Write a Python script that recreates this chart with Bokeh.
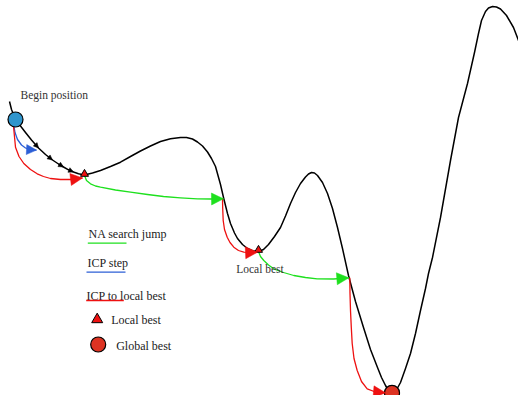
from bokeh.plotting import figure
from bokeh.models import Range1d, Arrow, NormalHead
from bokeh.core.properties import value
from bokeh.embed import file_html
from bokeh.resources import INLINE

# ---- data (screen-like coordinates) ----
curve_x = [9, 11, 15, 20, 25, 31, 38, 45, 52, 58, 63, 68, 73, 78, 84, 92, 100, 110, 120, 130,
           140, 150, 160, 170, 180, 186, 192, 197, 202, 207, 211, 215, 220, 223, 227, 230, 234,
           237, 242, 247, 252, 258, 263, 268, 274, 280, 285, 290, 295, 300, 305, 308, 311, 314,
           317, 322, 327, 332, 337, 342, 348, 355, 363, 370, 377, 381, 385, 388, 391, 394, 397,
           400, 405, 410, 415, 420, 425, 428, 432, 440, 450, 458, 467, 474, 478, 481, 485, 488,
           492, 496, 500, 506, 513, 518, 526]
curve_y = [101, 109, 119, 125.5, 132, 139.5, 147.5, 154, 159.5, 163.5, 166.5, 169.3, 171.5,
           173.2, 174.5, 172.5, 170, 166, 161.7, 156, 150.5, 145.5, 141, 138.3, 137, 137, 138.5,
           141.5, 145.5, 151.5, 158, 166, 184, 197, 213, 223, 232.5, 238, 244, 248, 250.3, 251,
           249, 244, 236, 227, 215.5, 203, 192, 183, 176.5, 173.5, 172, 172.5, 175, 182, 193,
           208, 227, 248, 275, 301, 327, 349, 367, 377, 385, 390, 392.5, 391, 387.5, 382, 368,
           353, 333, 310, 288, 273, 257, 217, 160, 117, 83, 52, 33, 20, 11, 7.5, 6, 6.5, 8.5,
           15, 27, 40, 63]

icp_step_x = [13.5, 14.5, 17, 21, 25, 30, 36]
icp_step_y = [126, 132, 139, 144.5, 147.5, 149.3, 149.6]

icp1_x = [13, 13.5, 15, 18.5, 23.3, 30, 36.7, 43, 50, 60, 70, 82]
icp1_y = [126, 131, 146.7, 156, 163, 169, 173.3, 176, 178, 179, 179, 177.5]

jump1_x = [84, 86, 90, 95, 100, 115, 130, 147, 163, 180, 197, 210, 223]
jump1_y = [175, 180, 183.3, 185.5, 186.7, 189.5, 191.7, 194, 196, 197.3, 198.3, 198.5, 198.3]

icp2_x = [222, 222.2, 222.7, 224, 226.7, 229.5, 233.3, 238, 243.3, 250, 257]
icp2_y = [198.3, 208, 220, 229, 236.7, 242, 246.7, 250, 251.7, 252, 251.7]

jump2_x = [258.3, 260, 263.3, 268, 273.3, 283, 293.3, 305, 316.7, 333, 348.3]
jump2_y = [251.7, 256, 260, 264.5, 268.3, 272, 275, 277, 278.3, 278.5, 277.3]

icp3_x = [349.3, 349.5, 350, 350.8, 351.7, 353.5, 356.7, 361, 366.7, 375, 385]
icp3_y = [277.3, 293, 310, 327, 343, 358, 370, 381, 388.3, 391.5, 392.3]

step_head_x = [39.5, 51, 61.5, 71.5]

begin_pt = (15, 119)
local_x = [84, 258]
local_y = [173.5, 249.5]
global_pt = (391.5, 392.3)

legend_labels = ["NA search jump", "ICP step", "ICP to local best", "Local best", "Global best"]

GREEN = "#1ee01e"
BLUE = "#2c5fd6"
RED = "#ee1111"
FONT = value("Liberation Serif")

p = figure(width=518, height=395, output_backend="svg", toolbar_location=None,
           x_range=Range1d(0, 518), y_range=Range1d(395, 0),
           x_axis_location=None, y_axis_location=None, min_border=0)
p.grid.visible = False
p.outline_line_color = None
p.background_fill_color = "white"

# main landscape curve
p.line(curve_x, curve_y, line_color="black", line_width=1.5, line_join="round")


def arrow_path(xs, ys, color, size=11):
    p.line(xs, ys, line_color=color, line_width=1.3, line_join="round")
    p.add_layout(Arrow(end=NormalHead(size=size, fill_color=color, line_color=color, line_width=0.5),
                       x_start=xs[-2], y_start=ys[-2], x_end=xs[-1], y_end=ys[-1],
                       line_alpha=0))


arrow_path(icp_step_x, icp_step_y, BLUE, 10)
arrow_path(icp1_x, icp1_y, RED, 12)
arrow_path(jump1_x, jump1_y, GREEN, 12)
arrow_path(icp2_x, icp2_y, RED, 12)
arrow_path(jump2_x, jump2_y, GREEN, 12)
arrow_path(icp3_x, icp3_y, RED, 12)

# small black heads along the ICP steps
for hx in step_head_x:
    i = min(range(len(curve_x)), key=lambda k: abs(curve_x[k] - hx))
    j = max(i - 1, 0)
    fx = curve_x[j] + (curve_x[i] - curve_x[j]) * 0.999
    fy = curve_y[j] + (curve_y[i] - curve_y[j]) * 0.999
    p.add_layout(Arrow(end=NormalHead(size=5, fill_color="black", line_color="black", line_width=0.5),
                       x_start=curve_x[j], y_start=curve_y[j], x_end=fx, y_end=fy, line_alpha=0))

# markers
p.scatter([begin_pt[0]], [begin_pt[1]], marker="circle", size=15, fill_color="#2f95cd",
          line_color="black", line_width=1.2)
p.scatter(local_x, local_y, marker="triangle", size=8, fill_color=RED,
          line_color="black", line_width=1)
p.scatter([global_pt[0]], [global_pt[1]], marker="circle", size=15, fill_color="#dd3322",
          line_color="black", line_width=1.2)

# labels
p.text([20], [94.5], text=["Begin position"], text_font=FONT, text_font_size="11.5px",
       text_color="#333333", text_align="left", text_baseline="middle")
p.text([259.5], [268], text=["Local best"], text_font=FONT, text_font_size="11.5px",
       text_color="#333333", text_align="center", text_baseline="middle")

# legend (hand-made, like the reference)
p.text([88, 87, 86], [233.5, 262.5, 295.5], text=legend_labels[:3], text_font=FONT,
       text_font_size="12px", text_color="#222222", text_align="left", text_baseline="middle")
p.segment([87.3, 86, 85.7], [242.7, 271.7, 300], [126, 125, 123.3], [242.7, 271.7, 300],
          line_color=[GREEN, BLUE, RED], line_width=1.3)
p.scatter([96.7], [319], marker="triangle", size=11, fill_color=RED, line_color="black", line_width=1)
p.scatter([97.7], [344], marker="circle", size=15, fill_color="#dd3322", line_color="black",
          line_width=1.2)
p.text([110.7, 115.7], [319.5, 345], text=legend_labels[3:], text_font=FONT,
       text_font_size="12px", text_color="#222222", text_align="left", text_baseline="middle")

open("out.html", "w").write(file_html(p, INLINE))
